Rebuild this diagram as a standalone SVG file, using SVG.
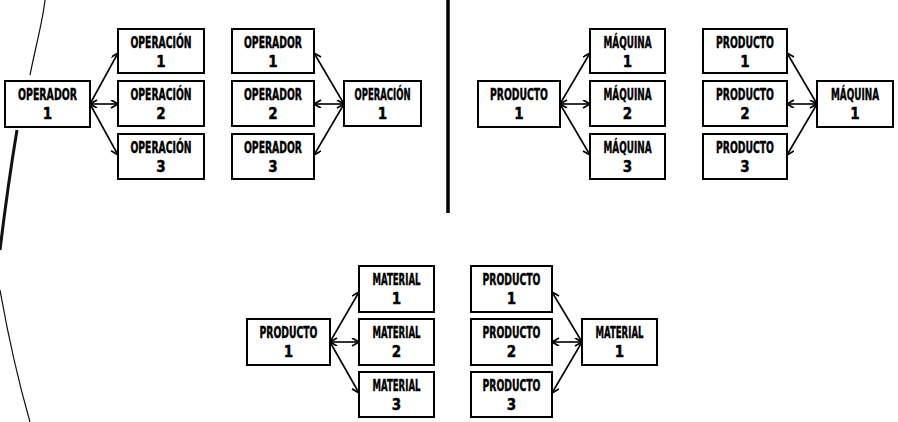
<svg xmlns="http://www.w3.org/2000/svg" width="898" height="422" viewBox="0 0 898 422">
<defs>
<marker id="ah" markerWidth="10" markerHeight="10" refX="8" refY="4" orient="auto-start-reverse" markerUnits="userSpaceOnUse">
<path d="M1,0 L8,4 L1,8" fill="none" stroke="#000" stroke-width="1.8"/>
</marker>
<style>
.b{fill:#fff;stroke:#000;stroke-width:2}
.t{font-family:"DejaVu Sans Condensed","DejaVu Sans",sans-serif;font-weight:bold;font-size:15px;text-anchor:middle;fill:#000;stroke:#000;stroke-width:0.4}
.c line{stroke:#000;stroke-width:1.6;marker-end:url(#ah)}
.c line.d{marker-start:url(#ah)}
.s{fill:none;stroke:#111}
</style>
</defs>
<rect width="898" height="422" fill="#fff"/>
<g id="scan-edge">
<path class="s" d="M45,0 C43,20 36,45 30,75" stroke-width="1.2"/>
<path class="s" d="M17,130 C12,160 6,200 0,250" stroke-width="3"/>
<path class="s" d="M0,290 C8,335 18,380 30,422" stroke-width="1.2"/>
</g>
<line id="divider" x1="448" y1="0" x2="448" y2="213" stroke="#000" stroke-width="3.5"/>
<g id="connectors" class="c">
<line x1="90" y1="104" x2="118" y2="53"/>
<line class="d" x1="90" y1="104" x2="118" y2="104"/>
<line x1="90" y1="104" x2="118" y2="155"/>
<line x1="344" y1="104" x2="314" y2="53"/>
<line class="d" x1="344" y1="104" x2="314" y2="104"/>
<line x1="344" y1="104" x2="314" y2="155"/>
<line x1="560" y1="104" x2="590" y2="53"/>
<line class="d" x1="560" y1="104" x2="590" y2="104"/>
<line x1="560" y1="104" x2="590" y2="155"/>
<line x1="817" y1="104" x2="787" y2="53"/>
<line class="d" x1="817" y1="104" x2="787" y2="104"/>
<line x1="817" y1="104" x2="787" y2="155"/>
<line x1="330" y1="342" x2="359" y2="292"/>
<line class="d" x1="330" y1="342" x2="359" y2="342"/>
<line x1="330" y1="342" x2="359" y2="393"/>
<line x1="582" y1="342" x2="552" y2="292"/>
<line class="d" x1="582" y1="342" x2="552" y2="342"/>
<line x1="582" y1="342" x2="552" y2="393"/>
</g>
<g id="operador-1"><rect class="b" x="5" y="81" width="85" height="46"/><text class="t" x="47.5" y="100" textLength="59" lengthAdjust="spacingAndGlyphs">OPERADOR</text><text class="t" x="47.5" y="119">1</text></g>
<g id="operacion-1a"><rect class="b" x="118" y="29" width="86" height="44"/><text class="t" x="161" y="48" textLength="61" lengthAdjust="spacingAndGlyphs">OPERACIÓN</text><text class="t" x="161" y="67">1</text></g>
<g id="operacion-2"><rect class="b" x="118" y="81" width="86" height="45"/><text class="t" x="161" y="100" textLength="61" lengthAdjust="spacingAndGlyphs">OPERACIÓN</text><text class="t" x="161" y="119">2</text></g>
<g id="operacion-3"><rect class="b" x="118" y="134" width="86" height="45"/><text class="t" x="161" y="153" textLength="61" lengthAdjust="spacingAndGlyphs">OPERACIÓN</text><text class="t" x="161" y="172">3</text></g>
<g id="operador-1b"><rect class="b" x="232" y="29" width="82" height="44"/><text class="t" x="273" y="48" textLength="58" lengthAdjust="spacingAndGlyphs">OPERADOR</text><text class="t" x="273" y="67">1</text></g>
<g id="operador-2"><rect class="b" x="232" y="81" width="82" height="45"/><text class="t" x="273" y="100" textLength="58" lengthAdjust="spacingAndGlyphs">OPERADOR</text><text class="t" x="273" y="119">2</text></g>
<g id="operador-3"><rect class="b" x="232" y="134" width="82" height="45"/><text class="t" x="273" y="153" textLength="58" lengthAdjust="spacingAndGlyphs">OPERADOR</text><text class="t" x="273" y="172">3</text></g>
<g id="operacion-1b"><rect class="b" x="344" y="81" width="77" height="45"/><text class="t" x="382.5" y="100" textLength="56" lengthAdjust="spacingAndGlyphs">OPERACIÓN</text><text class="t" x="382.5" y="119">1</text></g>
<g id="producto-1a"><rect class="b" x="478" y="81" width="82" height="46"/><text class="t" x="519" y="100" textLength="58" lengthAdjust="spacingAndGlyphs">PRODUCTO</text><text class="t" x="519" y="119">1</text></g>
<g id="maquina-1a"><rect class="b" x="590" y="29" width="75" height="44"/><text class="t" x="627.5" y="48" textLength="48" lengthAdjust="spacingAndGlyphs">MÁQUINA</text><text class="t" x="627.5" y="67">1</text></g>
<g id="maquina-2"><rect class="b" x="590" y="81" width="75" height="45"/><text class="t" x="627.5" y="100" textLength="48" lengthAdjust="spacingAndGlyphs">MÁQUINA</text><text class="t" x="627.5" y="119">2</text></g>
<g id="maquina-3"><rect class="b" x="590" y="134" width="75" height="45"/><text class="t" x="627.5" y="153" textLength="48" lengthAdjust="spacingAndGlyphs">MÁQUINA</text><text class="t" x="627.5" y="172">3</text></g>
<g id="producto-1b"><rect class="b" x="703" y="29" width="84" height="44"/><text class="t" x="745" y="48" textLength="58" lengthAdjust="spacingAndGlyphs">PRODUCTO</text><text class="t" x="745" y="67">1</text></g>
<g id="producto-2"><rect class="b" x="703" y="81" width="84" height="45"/><text class="t" x="745" y="100" textLength="58" lengthAdjust="spacingAndGlyphs">PRODUCTO</text><text class="t" x="745" y="119">2</text></g>
<g id="producto-3"><rect class="b" x="703" y="134" width="84" height="45"/><text class="t" x="745" y="153" textLength="58" lengthAdjust="spacingAndGlyphs">PRODUCTO</text><text class="t" x="745" y="172">3</text></g>
<g id="maquina-1b"><rect class="b" x="817" y="81" width="76" height="46"/><text class="t" x="855" y="100" textLength="48" lengthAdjust="spacingAndGlyphs">MÁQUINA</text><text class="t" x="855" y="119">1</text></g>
<g id="producto-1c"><rect class="b" x="247" y="319" width="83" height="46"/><text class="t" x="288.5" y="338" textLength="58" lengthAdjust="spacingAndGlyphs">PRODUCTO</text><text class="t" x="288.5" y="357">1</text></g>
<g id="material-1a"><rect class="b" x="359" y="266" width="75" height="46"/><text class="t" x="396.5" y="285" textLength="48" lengthAdjust="spacingAndGlyphs">MATERIAL</text><text class="t" x="396.5" y="304">1</text></g>
<g id="material-2"><rect class="b" x="359" y="319" width="75" height="46"/><text class="t" x="396.5" y="338" textLength="48" lengthAdjust="spacingAndGlyphs">MATERIAL</text><text class="t" x="396.5" y="357">2</text></g>
<g id="material-3"><rect class="b" x="359" y="372" width="75" height="45"/><text class="t" x="396.5" y="391" textLength="48" lengthAdjust="spacingAndGlyphs">MATERIAL</text><text class="t" x="396.5" y="410">3</text></g>
<g id="producto-1d"><rect class="b" x="471" y="266" width="81" height="46"/><text class="t" x="511.5" y="285" textLength="58" lengthAdjust="spacingAndGlyphs">PRODUCTO</text><text class="t" x="511.5" y="304">1</text></g>
<g id="producto-2b"><rect class="b" x="471" y="319" width="81" height="46"/><text class="t" x="511.5" y="338" textLength="58" lengthAdjust="spacingAndGlyphs">PRODUCTO</text><text class="t" x="511.5" y="357">2</text></g>
<g id="producto-3b"><rect class="b" x="471" y="372" width="81" height="45"/><text class="t" x="511.5" y="391" textLength="58" lengthAdjust="spacingAndGlyphs">PRODUCTO</text><text class="t" x="511.5" y="410">3</text></g>
<g id="material-1b"><rect class="b" x="582" y="319" width="75" height="46"/><text class="t" x="619.5" y="338" textLength="48" lengthAdjust="spacingAndGlyphs">MATERIAL</text><text class="t" x="619.5" y="357">1</text></g>
</svg>
